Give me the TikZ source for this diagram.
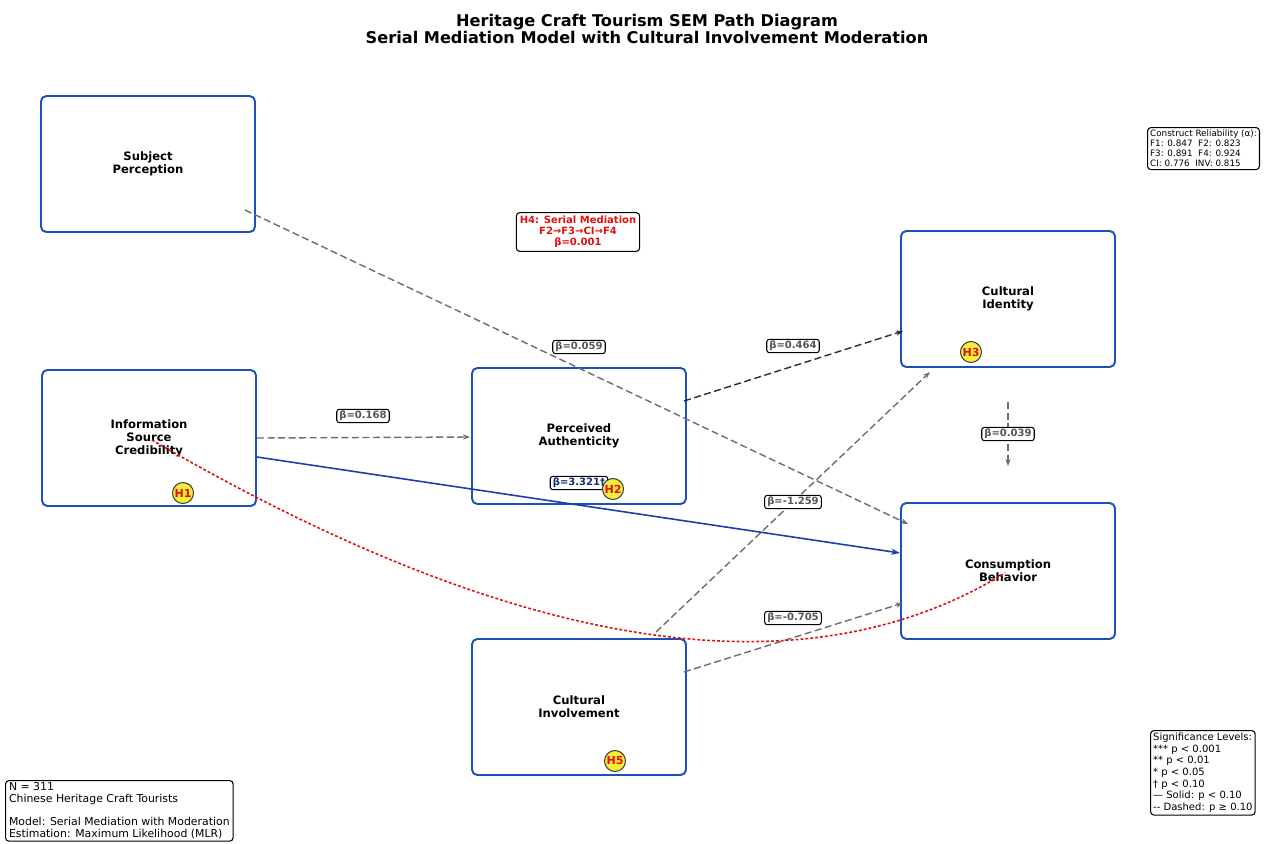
\documentclass[tikz,border=0pt]{standalone}
\usepackage{fontspec}
\setmainfont{DejaVu Sans}
\usetikzlibrary{arrows.meta,calc}
\definecolor{boxblue}{HTML}{1F4FB8}
\definecolor{pathgray}{HTML}{6E6E6E}
\definecolor{pathdark}{HTML}{2E2E2E}
\definecolor{solidblue}{HTML}{1A3FA8}
\definecolor{hred}{HTML}{E01010}
\definecolor{hyellow}{HTML}{F6EE3A}
\definecolor{labgray}{HTML}{555555}
\tikzset{
  construct/.style={draw=boxblue, line width=1.1pt, rounded corners=3pt, fill=white,
    minimum width=4.28cm, minimum height=2.72cm, align=center,
    font=\fontsize{6.6}{7.4}\selectfont\bfseries},
  dpath/.style={draw=pathgray, line width=0.8pt, dash pattern=on 4pt off 2pt,
    -{Stealth[length=4pt,width=3pt]}},
  ddark/.style={draw=pathdark, line width=0.8pt, dash pattern=on 4pt off 2pt,
    -{Stealth[length=4pt,width=3pt]}},
  spath/.style={draw=solidblue, line width=0.9pt, -{Stealth[length=5pt,width=3.5pt]}},
  modpath/.style={draw=hred, line width=0.9pt, dash pattern=on 1.6pt off 1.2pt},
  blabel/.style={draw=black, fill=white, rounded corners=1.5pt, line width=0.6pt,
    inner xsep=1.5pt, inner ysep=1pt, text=labgray, font=\fontsize{5.7}{6.5}\selectfont\bfseries},
  hbadge/.style={circle, draw=black!75, line width=0.6pt, fill=hyellow, minimum size=0.42cm,
    inner sep=0pt, text=hred, font=\fontsize{6.3}{6.5}\selectfont\bfseries},
  infobox/.style={draw=black, fill=white, rounded corners=2pt, line width=0.6pt,
    align=left, anchor=north west},
}
\begin{document}
\begin{tikzpicture}[x=0.02cm,y=-0.02cm]
\useasboundingbox[fill=white] (0,0) rectangle (1268,843);

% title
\node[font=\fontsize{9.2}{10.2}\selectfont\bfseries, align=center] (title) at (647,29)
  {Heritage Craft Tourism SEM Path Diagram\\Serial Mediation Model with Cultural Involvement Moderation};

% constructs
\node[construct] (sp) at (148,164) {Subject\\Perception};
\node[construct] (isc) at (149,438) {Information\\Source\\Credibility};
\node[construct] (pa) at (579,436) {Perceived\\Authenticity};
\node[construct] (ci) at (1008,299) {Cultural\\Identity};
\node[construct] (cb) at (1008,571) {Consumption\\Behavior};
\node[construct] (inv) at (579,707) {Cultural\\Involvement};

% path end points
\coordinate (spA) at ($(sp.center)+(97,46)$);
\coordinate (cbA) at ($(cb.center)+(-100,-47)$);
\coordinate (iscA) at ($(isc.center)+(108,0)$);
\coordinate (paA) at ($(pa.center)+(-109,1)$);
\coordinate (paB) at ($(pa.center)+(105,-35)$);
\coordinate (ciA) at ($(ci.center)+(-105,32)$);
\coordinate (ciB) at ($(ci.center)+(0,103)$);
\coordinate (cbB) at ($(cb.center)+(0,-105)$);
\coordinate (iscB) at ($(isc.center)+(108,19)$);
\coordinate (cbC) at ($(cb.center)+(-108,-18)$);
\coordinate (invA) at ($(inv.center)+(77,-75)$);
\coordinate (ciC) at ($(ci.center)+(-78,73)$);
\coordinate (invB) at ($(inv.center)+(105,-35)$);
\coordinate (cbD) at ($(cb.center)+(-105,32)$);
\coordinate (iscC) at ($(isc.center)+(3,2)$);
\coordinate (cbE) at ($(cb.center)+(-3,2)$);

% paths
\draw[dpath] (spA) -- (cbA);
\draw[dpath] (iscA) -- (paA);
\draw[ddark] (paB) -- (ciA);
\draw[dpath] (ciB) -- (cbB);
\draw[spath] (iscB) -- (cbC);
\draw[dpath] (invA) -- (ciC);
\draw[dpath] (invB) -- (cbD);
\draw[modpath] (iscC) .. controls (518,653) and (803,697) .. (cbE);

% path labels
\node[blabel] (l1) at (579,347) {β=0.059};
\node[blabel] (l2) at (363,416) {β=0.168};
\node[blabel] (l3) at (793,346) {β=0.464};
\node[blabel] (l4) at (1008,434) {β=0.039};
\node[blabel, text=solidblue!70!black] (l5) at (579,483) {β=3.321†};
\node[blabel] (l6) at (793,502) {β=-1.259};
\node[blabel] (l7) at (793,618) {β=-0.705};

% hypothesis badges
\node[hbadge] (h1) at (183,493) {H1};
\node[hbadge] (h2) at (613,489) {H2};
\node[hbadge] (h3) at (971,352) {H3};
\node[hbadge] (h5) at (615,761) {H5};

% H4 box
\node[draw=black, fill=white, rounded corners=2pt, line width=0.6pt, align=center,
  text=hred, font=\fontsize{5.7}{6.3}\selectfont\bfseries, inner sep=2pt] (h4) at (578,232)
  {H4: Serial Mediation\\F2→F3→CI→F4\\β=0.001};

% info boxes
\node[infobox, font=\fontsize{5}{5.7}\selectfont, inner sep=1.5pt] (rel) at (1147,127)
  {Construct Reliability (α):\\F1: 0.847\ \ F2: 0.823\\F3: 0.891\ \ F4: 0.924\\CI: 0.776\ \ INV: 0.815};
\node[infobox, font=\fontsize{5.7}{6.6}\selectfont, inner sep=1.5pt] (sig) at (1150,730)
  {Significance Levels:\\*** p < 0.001\\** p < 0.01\\* p < 0.05\\† p < 0.10\\— Solid: p < 0.10\\{-}{-} Dashed: p ≥ 0.10};
\node[infobox, font=\fontsize{6.2}{6.9}\selectfont, inner xsep=2pt, inner ysep=1.2pt] (nbox) at (5,780)
  {N = 311\\Chinese Heritage Craft Tourists\\[6pt]Model: Serial Mediation with Moderation\\Estimation: Maximum Likelihood (MLR)};
\end{tikzpicture}
\end{document}
